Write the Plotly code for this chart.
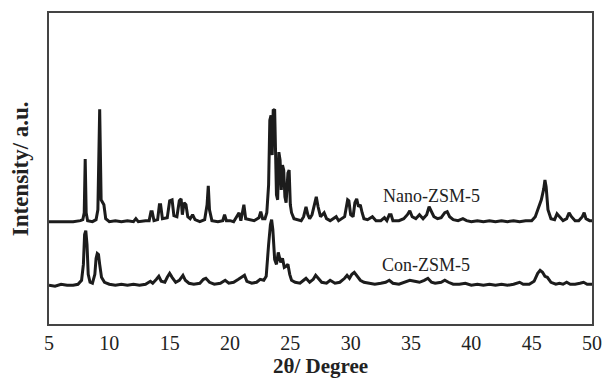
import plotly.graph_objects as go

# Nano-ZSM-5 pattern (2theta in degrees, intensity in a.u., offset trace)
nano_x = [5.0, 6.0, 7.0, 7.6, 7.8, 7.92, 8.0, 8.08, 8.2, 8.6, 8.9, 9.05, 9.2, 9.32, 9.45, 9.55, 9.7,
          10.0, 10.5, 11.0, 11.5, 12.0, 12.2, 12.4, 13.0, 13.3, 13.45, 13.55, 13.7, 14.0, 14.15, 14.25,
          14.4, 14.8, 15.0, 15.2, 15.35, 15.6, 15.8, 15.95, 16.05, 16.2, 16.35, 16.5, 16.7, 16.9, 17.1,
          17.5, 17.9, 18.1, 18.2, 18.3, 18.5, 19.0, 19.4, 19.55, 19.7, 20.0, 20.3, 20.6, 20.75, 20.9,
          21.05, 21.15, 21.3, 21.6, 22.0, 22.4, 22.55, 22.7, 22.9, 23.05, 23.2, 23.3, 23.4, 23.5, 23.58,
          23.7, 23.85, 23.95, 24.05, 24.15, 24.25, 24.35, 24.45, 24.55, 24.65, 24.8, 24.9, 25.0, 25.1,
          25.3, 25.6, 25.9, 26.1, 26.3, 26.45, 26.6, 26.8, 27.0, 27.15, 27.3, 27.5, 27.8, 28.0, 28.3,
          28.6, 28.8, 29.0, 29.3, 29.5, 29.75, 29.85, 30.0, 30.2, 30.35, 30.5, 30.65, 30.8, 30.95, 31.1,
          31.4, 31.8, 32.1, 32.5, 32.8, 33.0, 33.2, 33.35, 33.5, 34.0, 34.4, 34.7, 34.9, 35.1, 35.4,
          35.7, 36.0, 36.3, 36.5, 36.7, 36.9, 37.2, 37.5, 37.8, 38.0, 38.2, 38.5, 38.9, 39.3, 39.6,
          40.0, 40.5, 41.0, 41.5, 42.0, 42.5, 43.0, 43.5, 44.0, 44.5, 45.0, 45.3, 45.6, 45.8, 46.0,
          46.1, 46.2, 46.35, 46.6, 46.9, 47.1, 47.3, 47.6, 47.9, 48.1, 48.3, 48.6, 48.9, 49.2, 49.35,
          49.5, 49.8, 50.0]
nano_y = [103, 103, 103, 104, 105, 112, 166, 112, 104, 103, 105, 115, 216, 125, 121, 120, 106,
          103, 104, 103, 104, 103, 106, 103, 104, 104, 113, 113, 104, 105, 120, 120,
          106, 107, 124, 125, 109, 108, 124, 126, 110, 122, 120, 108, 106, 110, 105,
          103, 105, 120, 139, 115, 104, 103, 104, 110, 104, 104, 103, 110, 112, 104,
          115, 120, 106, 105, 104, 107, 113, 106, 106, 112, 140, 205, 210, 170, 215,
          216, 130, 125, 173, 165, 135, 160, 155, 128, 122, 152, 155, 120, 112,
          106, 105, 104, 108, 118, 110, 106, 110, 120, 128, 118, 108, 112, 106, 104,
          106, 108, 104, 106, 108, 125, 124, 110, 108, 122, 126, 118, 120, 112, 106,
          105, 108, 104, 104, 107, 104, 110, 110, 104, 104, 106, 110, 114, 108, 106,
          110, 106, 110, 118, 113, 108, 106, 107, 112, 113, 108, 105, 104, 106, 104,
          103, 104, 103, 104, 103, 104, 103, 104, 103, 104, 104, 108, 118, 125, 136,
          145, 138, 115, 106, 105, 111, 108, 104, 106, 112, 108, 104, 104, 108, 112,
          106, 104, 104]

# Con-ZSM-5 pattern
con_x = [5.0, 5.5, 6.0, 6.5, 7.0, 7.4, 7.7, 7.85, 7.95, 8.05, 8.15, 8.25, 8.4, 8.6, 8.8, 8.9, 9.0,
         9.1, 9.2, 9.35, 9.6, 10.0, 10.5, 11.0, 11.5, 12.0, 12.5, 13.0, 13.4, 13.6, 13.9, 14.1, 14.3,
         14.6, 14.8, 15.0, 15.2, 15.5, 15.8, 16.1, 16.3, 16.6, 17.0, 17.5, 17.8, 18.0, 18.3, 18.7,
         19.2, 19.6, 19.9, 20.3, 20.7, 21.0, 21.2, 21.4, 21.8, 22.2, 22.5, 22.8, 23.0, 23.2, 23.35,
         23.45, 23.55, 23.7, 23.85, 24.0, 24.1, 24.2, 24.35, 24.5, 24.65, 24.8, 24.95, 25.1, 25.4,
         25.8, 26.1, 26.3, 26.6, 26.9, 27.1, 27.3, 27.6, 28.0, 28.3, 28.7, 29.1, 29.5, 29.7, 29.9,
         30.1, 30.3, 30.5, 30.8, 31.1, 31.5, 32.0, 32.5, 32.9, 33.2, 33.5, 34.0, 34.5, 34.9, 35.3,
         35.7, 36.1, 36.4, 36.7, 37.0, 37.5, 37.8, 38.1, 38.5, 39.0, 39.5, 40.0, 40.5, 41.0, 41.5,
         42.0, 42.5, 43.0, 43.5, 44.0, 44.3, 44.8, 45.2, 45.5, 45.7, 45.9, 46.1, 46.3, 46.6, 47.0,
         47.3, 47.6, 47.9, 48.2, 48.6, 49.0, 49.3, 49.6, 50.0]
con_y = [39, 38, 40, 39, 39, 40, 44, 60, 90, 94, 80, 50, 42, 41, 50, 66, 71,
         70, 60, 47, 42, 40, 39, 40, 39, 40, 39, 40, 43, 41, 45, 48, 43,
         42, 47, 51, 47, 42, 44, 49, 44, 41, 40, 41, 45, 46, 42, 40,
         41, 44, 41, 42, 45, 47, 49, 43, 41, 42, 45, 44, 48, 80, 100,
         105, 95, 65, 60, 72, 68, 62, 66, 57, 58, 60, 50, 44, 42,
         41, 44, 46, 42, 45, 49, 46, 42, 41, 44, 41, 42, 46, 49, 46,
         50, 52, 49, 44, 42, 41, 40, 41, 42, 44, 41, 40, 42, 44, 43,
         42, 44, 46, 42, 41, 42, 44, 42, 40, 40, 41, 39, 40, 39, 40,
         39, 40, 39, 40, 42, 40, 40, 43, 51, 54, 52, 48, 47, 42, 40,
         41, 40, 42, 40, 40, 41, 42, 40, 40]

x_ticks = [5, 10, 15, 20, 25, 30, 35, 40, 45, 50]
labels = ["Nano-ZSM-5", "Con-ZSM-5"]
x_title = "2θ/ Degree"
y_title = "Intensity/ a.u."

line_color = "#1c1c1c"
serif = "Liberation Serif, Times New Roman, serif"

fig = go.Figure()
fig.add_trace(go.Scatter(x=nano_x, y=nano_y, mode="lines",
                         line=dict(color=line_color, width=3), showlegend=False))
fig.add_trace(go.Scatter(x=con_x, y=con_y, mode="lines",
                         line=dict(color=line_color, width=3), showlegend=False))

fig.add_annotation(x=32.5, y=129, text=labels[0], showarrow=False, xanchor="left",
                   font=dict(family=serif, size=18, color="#222"))
fig.add_annotation(x=32.42, y=59, text=labels[1], showarrow=False, xanchor="left",
                   font=dict(family=serif, size=18, color="#222"))

# axis titles as paper-anchored annotations
fig.add_annotation(xref="paper", yref="paper", x=0.5, y=-0.179, xanchor="center", yanchor="bottom",
                   text="<b>" + x_title + "</b>", showarrow=False,
                   font=dict(family=serif, size=21, color="#222"))
fig.add_annotation(xref="paper", yref="paper", x=-0.052, y=0.5, xanchor="center", yanchor="middle",
                   text="<b>" + y_title + "</b>", showarrow=False, textangle=-90,
                   font=dict(family=serif, size=23, color="#222"))

fig.update_layout(
    width=613, height=380,
    margin=dict(l=49, r=11, t=11, b=56),
    paper_bgcolor="white", plot_bgcolor="white",
    font=dict(family=serif, color="#222"),
)
fig.update_xaxes(range=[5, 50], tickvals=x_ticks, ticktext=[str(v) for v in x_ticks],
                 showgrid=False, zeroline=False, showline=True, mirror=True,
                 linecolor="#444", linewidth=1.5, ticks="",
                 tickfont=dict(family=serif, size=20, color="#222"))
fig.update_yaxes(range=[0, 313], showticklabels=False, showgrid=False, zeroline=False,
                 showline=True, mirror=True, linecolor="#444", linewidth=1.5, ticks="")

fig.write_html("out.html", config={"displayModeBar": False},
               post_script="document.body.style.margin='0px';document.body.style.overflow='hidden';")
